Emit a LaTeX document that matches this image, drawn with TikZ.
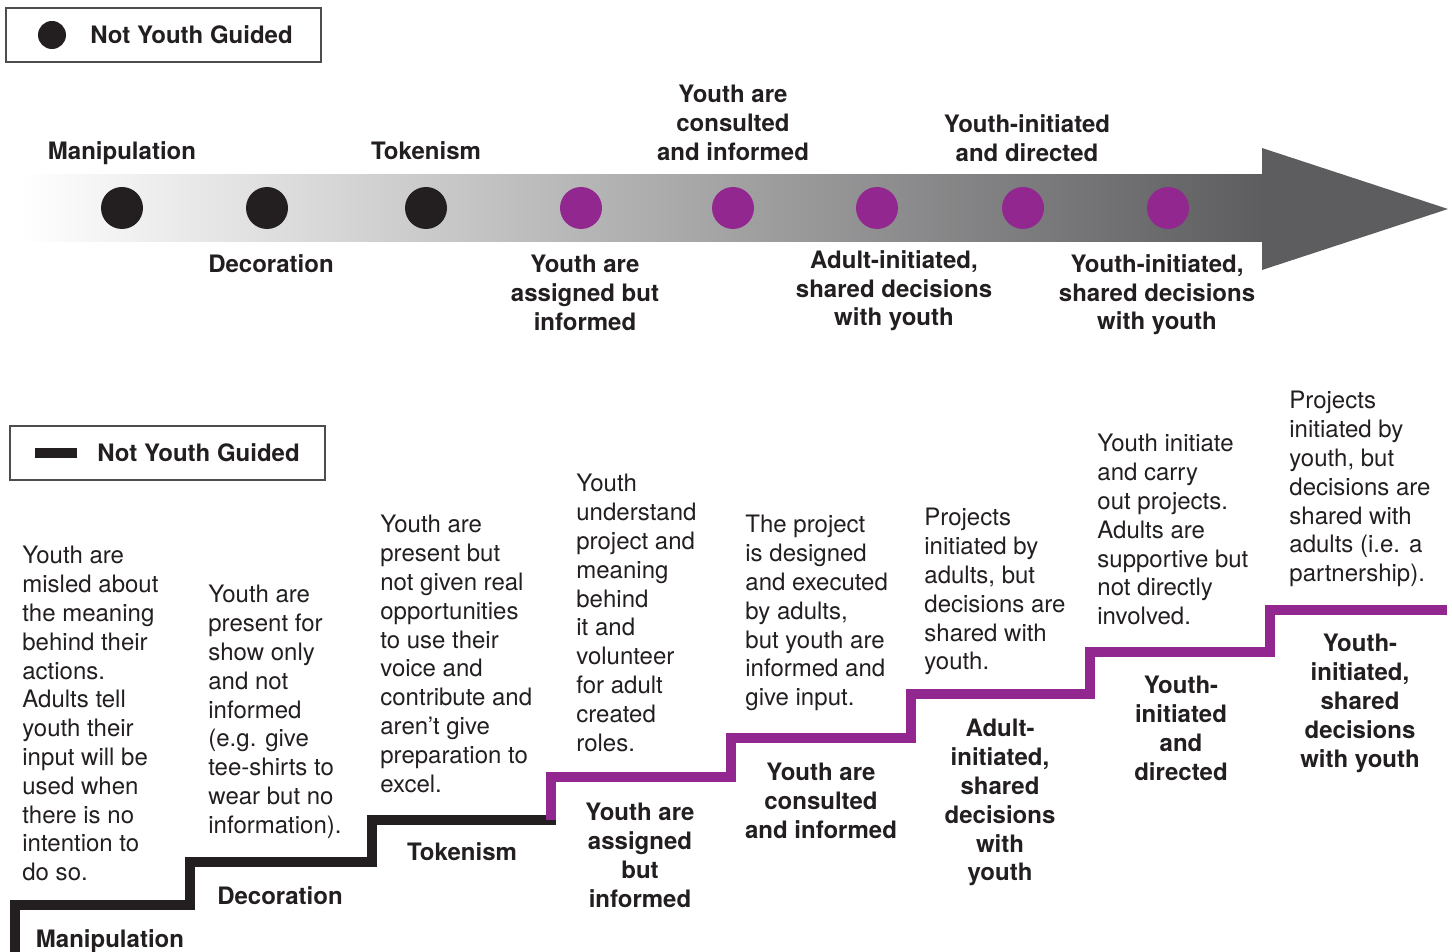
\documentclass[tikz,border=0pt]{standalone}
\usepackage{fontspec}
\setmainfont{TeX Gyre Heros}
\usepackage{xcolor}
\usepackage{tikz}
\usetikzlibrary{calc}
\definecolor{ink}{HTML}{231F20}
\definecolor{youth}{HTML}{92278F}
\definecolor{band}{HTML}{5D5D5F}
\newcommand{\StepFont}{\fontsize{12}{14.4}\selectfont}
\newcommand{\KeyFont}{\fontsize{12}{14.4}\selectfont}

\begin{document}
\begin{tikzpicture}[x=0.5pt,y=-0.5pt,
    lbl/.style={font=\StepFont\bfseries,text=ink,align=center,anchor=north,inner sep=0pt},
    desc/.style={font=\StepFont,text=ink,align=left,anchor=north west,inner sep=0pt},
    keytxt/.style={font=\KeyFont\bfseries,text=ink,anchor=west,inner sep=0pt},
    keybox/.style={draw=ink!80,line width=0.7pt}]
  \useasboundingbox (0,0) rectangle (1452,952);
  \draw[keybox] (6,8) rectangle (321,62);
  \node[circle,fill=ink,minimum size=14pt,inner sep=0pt] (dotkey) at (52,35) {};
  \node[keytxt] (dotkeytxt) at (90,35) {Not Youth Guided};
  \shade[left color=white,right color=band] (20,175) rectangle (1265,242);
  \fill[band] (1262,148) -- (1448,209) -- (1262,270) -- cycle;
  \foreach \x/\c [count=\i] in {122/ink,267/ink,426/ink,581/youth,733/youth,877/youth,1023/youth,1168/youth}
    \node[circle,fill=\c,minimum size=21pt,inner sep=0pt] (dot\i) at (\x,208) {};
  \node[lbl] (upmanip) at (122,141) {Manipulation};
  \node[lbl] (uptoken) at (426,141) {Tokenism};
  \node[lbl] (upconsult) at (733,85) {Youth are\\consulted\\and informed};
  \node[lbl] (updirect) at (1027,114) {Youth-initiated\\and directed};
  \node[lbl] (updecor) at (271,254) {Decoration};
  \node[lbl] (upassign) at (585,255) {Youth are\\assigned but\\informed};
  \node[lbl] (upadult) at (894,250) {Adult-initiated,\\shared decisions\\with youth};
  \node[lbl] (upshared) at (1157,254) {Youth-initiated,\\shared decisions\\with youth};

  \draw[keybox] (10,426) rectangle (325,480);
  \draw[ink,line width=5pt] (35,453) -- (77,453);
  \node[keytxt] (barkeytxt) at (97,453) {Not Youth Guided};
  \draw[ink,line width=5pt] (15,952) |- (190,905) |- (372,862) |- (556,820);
  \draw[youth,line width=5pt] (551,820) |- (731,777) |- (911,738) |- (1090,694) |- (1270,652) |- (1447,610);
  \node[lbl] (stmanip) at (110,929) {Manipulation};
  \node[lbl] (stdecor) at (280,886) {Decoration};
  \node[lbl] (sttoken) at (462,842) {Tokenism};
  \node[lbl] (stassign) at (640,803) {Youth are\\assigned\\but\\informed};
  \node[lbl] (stconsult) at (821,763) {Youth are\\consulted\\and informed};
  \node[lbl] (stadult) at (1000,719) {Adult-\\initiated,\\shared\\decisions\\with\\youth};
  \node[lbl] (stdirect) at (1181,676) {Youth-\\initiated\\and\\directed};
  \node[lbl] (stshared) at (1360,634) {Youth-\\initiated,\\shared\\decisions\\with youth};
  \node[desc] (dmanip) at (22,546) {Youth are\\misled about\\the meaning\\behind their\\actions.\\Adults tell\\youth their\\input will be\\used when\\there is no\\intention to\\do so.};
  \node[desc] (ddecor) at (208,585) {Youth are\\present for\\show only\\and not\\informed\\(e.g. give\\tee-shirts to\\wear but no\\information).};
  \node[desc] (dtoken) at (380,515) {Youth are\\present but\\not given real\\opportunities\\to use their\\voice and\\contribute and\\aren’t give\\preparation to\\excel.};
  \node[desc] (dassign) at (576,474) {Youth\\understand\\project and\\meaning\\behind\\it and\\volunteer\\for adult\\created\\roles.};
  \node[desc] (dconsult) at (745,515) {The project\\is designed\\and executed\\by adults,\\but youth are\\informed and\\give input.};
  \node[desc] (dadult) at (924,508) {Projects\\initiated by\\adults, but\\decisions are\\shared with\\youth.};
  \node[desc] (ddirect) at (1097,434) {Youth initiate\\and carry\\out projects.\\Adults are\\supportive but\\not directly\\involved.};
  \node[desc] (dshared) at (1289,391) {Projects\\initiated by\\youth, but\\decisions are\\shared with\\adults (i.e. a\\partnership).};
\end{tikzpicture}
\end{document}
